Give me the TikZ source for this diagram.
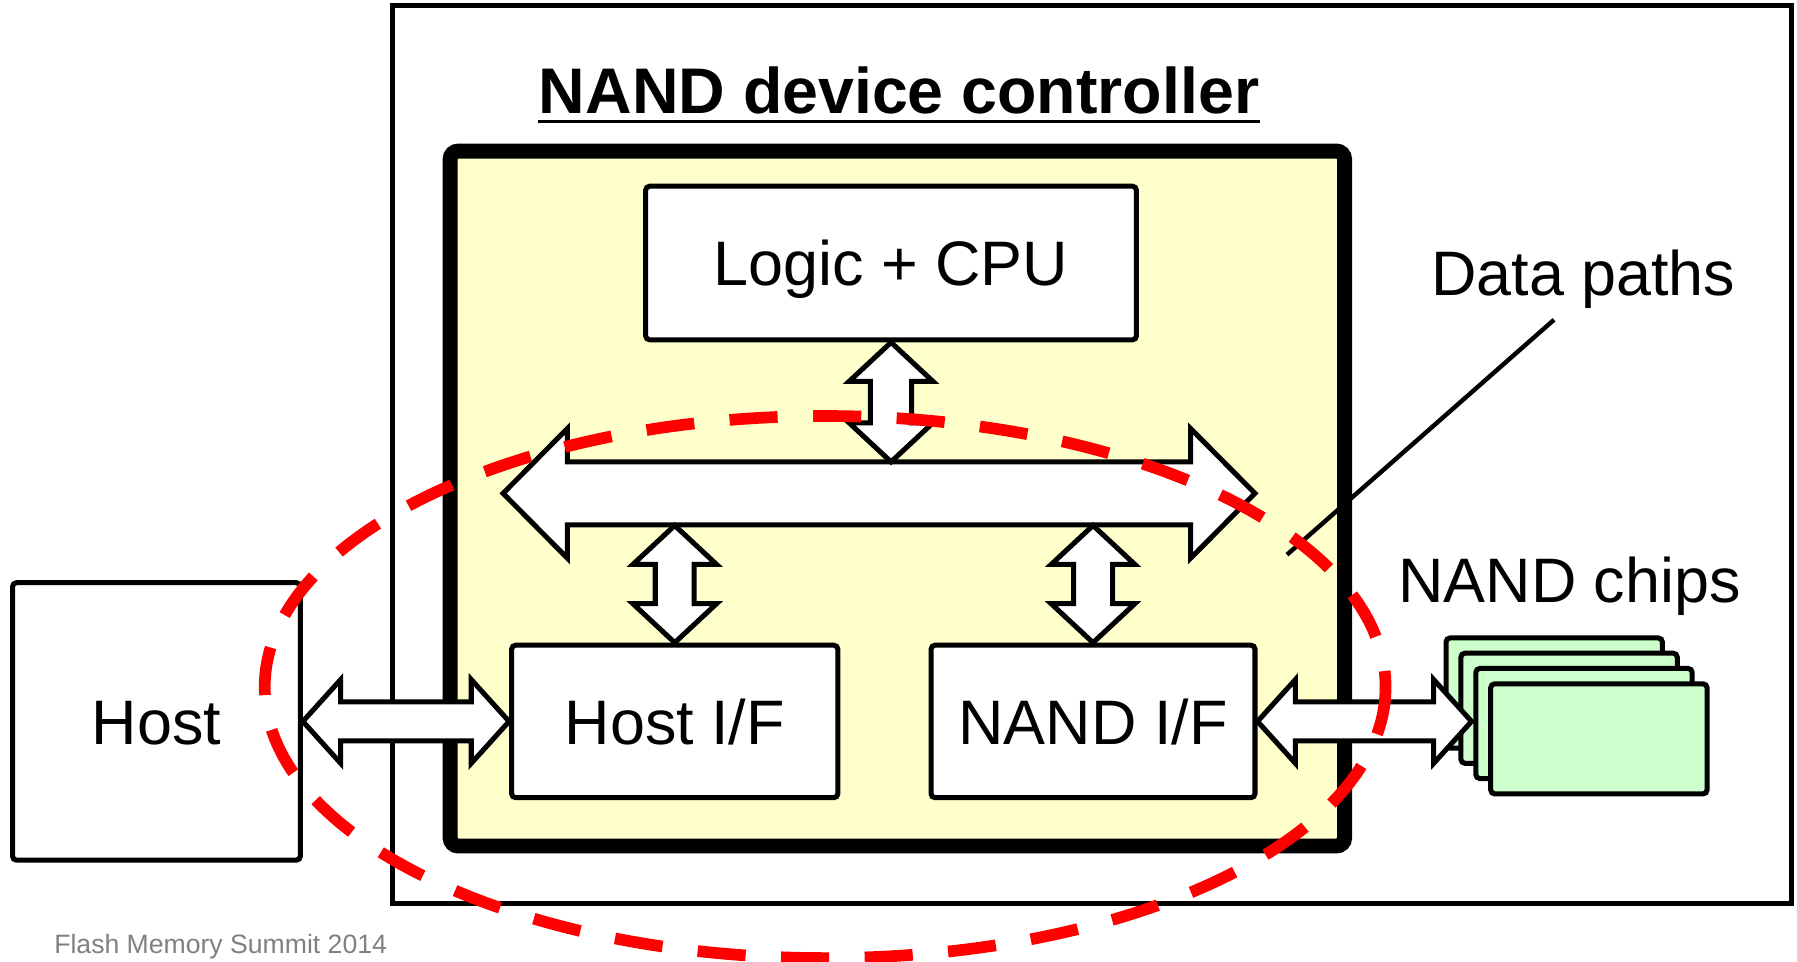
\documentclass[tikz,border=0pt]{standalone}
\usepackage{fontspec}
\setmainfont{Liberation Sans}
\usetikzlibrary{calc}
\definecolor{ctrlyellow}{RGB}{255,255,204}
\definecolor{chipgreen}{RGB}{204,255,204}
\definecolor{footgray}{RGB}{128,128,128}
% horizontal double block arrow: #1 left end, #2 right end, #3 head length, #4 head half width, #5 shaft half width
\newcommand\hdblarrow[5]{%
  \path[blockarr] let \p1=(#1), \p2=(#2) in
    (\x1,\y1) -- (\x1+#3,\y1+#4) -- (\x1+#3,\y1+#5) -- (\x2-#3,\y1+#5) -- (\x2-#3,\y1+#4)
    -- (\x2,\y1) -- (\x2-#3,\y1-#4) -- (\x2-#3,\y1-#5) -- (\x1+#3,\y1-#5) -- (\x1+#3,\y1-#4) -- cycle;}
% vertical double block arrow: #1 top end, #2 bottom end
\newcommand\vdblarrow[5]{%
  \path[blockarr] let \p1=(#1), \p2=(#2) in
    (\x1,\y1) -- (\x1+#4,\y1-#3) -- (\x1+#5,\y1-#3) -- (\x1+#5,\y2+#3) -- (\x1+#4,\y2+#3)
    -- (\x1,\y2) -- (\x1-#4,\y2+#3) -- (\x1-#5,\y2+#3) -- (\x1-#5,\y1-#3) -- (\x1-#4,\y1-#3) -- cycle;}
\begin{document}
\begin{tikzpicture}[x=0.01cm, y=-0.01cm,
  thinbox/.style={draw, line width=1.25pt, fill=white, inner sep=0pt, rounded corners=1pt,
    text height=11.2pt, text depth=0pt, font=\fontsize{15.6}{18}\selectfont},
  chipbox/.style={draw, line width=1.25pt, fill=chipgreen, inner sep=0pt, rounded corners=1pt,
    minimum width=1.887cm, minimum height=0.96cm},
  blockarr/.style={draw, line width=1.25pt, fill=white, line join=miter},
  lbl/.style={inner sep=0pt, font=\fontsize{15.6}{18}\selectfont},
  redline/.style={draw=red, line width=2.9pt, dash pattern=on 11.95pt off 8.8pt}]
\useasboundingbox (0,0) rectangle (1568,839);

% outer device box
\node[draw, line width=1.3pt, inner sep=0pt, minimum width=12.2cm, minimum height=7.83cm] (outer) at (953,396.5) {};

% title
\node[lbl, font=\bfseries\fontsize{16}{19}\selectfont, anchor=base] (title) at (784.5,99) {NAND device controller};
\draw[line width=0.85pt] ([yshift=-0.07cm]title.base west) -- ([yshift=-0.07cm]title.base east);

% controller
\node[draw, line width=3.7pt, fill=ctrlyellow, inner sep=0pt, rounded corners=2pt,
  minimum width=7.8cm, minimum height=6.06cm] (ctrl) at (783,435) {};

\node[thinbox, minimum width=4.28cm, minimum height=1.34cm] (logic) at (777.5,229.5) {Logic + CPU};
\node[thinbox, minimum width=2.845cm, minimum height=1.33cm] (hostif) at (588.75,629.5) {Host I/F};
\node[thinbox, minimum width=2.825cm, minimum height=1.33cm] (nandif) at (953.75,629.5) {NAND I/F};
\node[thinbox, minimum width=2.51cm, minimum height=2.42cm] (host) at (136.5,629.5) {Host};

% NAND chips
\node[chipbox] (chip1) at (1356.15,604.7) {};
\node[chipbox] (chip2) at (1369.15,618) {};
\node[chipbox] (chip3) at (1382.15,631.3) {};
\node[chipbox] (chip4) at (1395.15,644.7) {};
\node[lbl, anchor=base] (chipslbl) at (1369.5,526) {NAND chips};

% data bus
\coordinate (busL) at (439,430.5);
\coordinate (busR) at (1095,430.5);
\coordinate (busTop) at (777.5,403);
\coordinate (busBL) at (588.75,458.5);
\coordinate (busBR) at (953.75,458.5);
\coordinate (chipin) at (1284,629.5);
\hdblarrow{busL}{busR}{0.56cm}{0.565cm}{0.275cm}
\vdblarrow{logic.south}{busTop}{0.34cm}{0.365cm}{0.18cm}
\vdblarrow{busBL}{hostif.north}{0.34cm}{0.365cm}{0.17cm}
\vdblarrow{busBR}{nandif.north}{0.34cm}{0.365cm}{0.17cm}
\hdblarrow{host.east}{hostif.west}{0.33cm}{0.365cm}{0.17cm}
\hdblarrow{nandif.east}{chipin}{0.33cm}{0.365cm}{0.17cm}

% data paths callout
\node[lbl, anchor=base] (dplbl) at (1381.5,257.5) {Data paths};
\coordinate (dpA) at (1356,279);
\coordinate (dpB) at (1123,484);
\draw[line width=1.1pt] (dpA) -- (dpB);

% footer
\node[inner sep=0pt, anchor=base west, text=footgray, font=\fontsize{6.6}{8}\selectfont] (footer) at (46.7,831.7) {Flash Memory Summit 2014};

% red dashed ellipse
\draw[redline] (720,599.5) ellipse [x radius=489, y radius=236.5];
\end{tikzpicture}
\end{document}
